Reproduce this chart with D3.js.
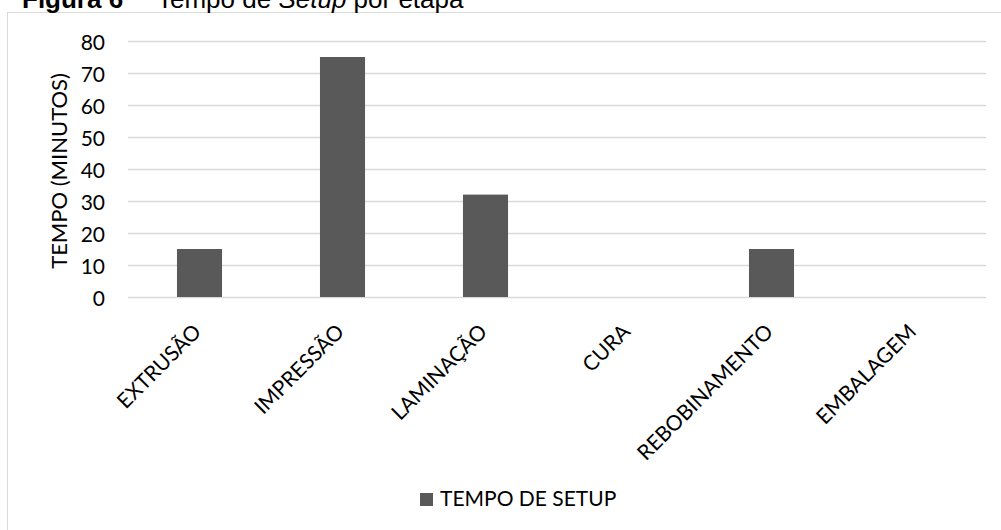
<!DOCTYPE html>
<html>
<head>
<meta charset="utf-8">
<script src="https://cdn.jsdelivr.net/npm/d3@7"></script>
<style>
  html, body { margin: 0; padding: 0; background: #fff; }
  svg { display: block; }
</style>
</head>
<body>
<svg id="chart" width="1001" height="530"></svg>
<script>
// Setup time per production stage (minutes)
const etapas = ["EXTRUSÃO", "IMPRESSÃO", "LAMINAÇÃO", "CURA", "REBOBINAMENTO", "EMBALAGEM"];
const tempoSetup = [15, 75, 32, 0, 15, 0];
const yTicks = [0, 10, 20, 30, 40, 50, 60, 70, 80];
const serieNome = "TEMPO DE SETUP";
const eixoY = "TEMPO (MINUTOS)";

const bodyFont = "Lato, 'Open Sans', sans-serif";
const barColor = "#595959";
const gridColor = "#d9d9d9";

const svg = d3.select("#chart");

// Chart frame
svg.append("rect")
  .attr("x", 7.5).attr("y", 12.5)
  .attr("width", 1010).attr("height", 540)
  .attr("fill", "#fff")
  .attr("stroke", gridColor).attr("stroke-width", 1);

// Caption above the frame
const cap = svg.append("text")
  .attr("x", 22).attr("y", 8)
  .attr("font-family", "'Liberation Sans', Arial, sans-serif")
  .attr("font-size", 26)
  .attr("fill", "#000");
cap.append("tspan").attr("font-weight", "bold").text("Figura 6");
cap.append("tspan").attr("x", 157).text("Tempo de ");
cap.append("tspan").attr("font-style", "italic").text("Setup");
cap.append("tspan").text(" por etapa");

const plot = { left: 128, right: 986, top: 41, bottom: 297 };

const x = d3.scaleBand()
  .domain(etapas)
  .range([plot.left, plot.right])
  .paddingInner(0.685)
  .paddingOuter(0.685 / 2);

const y = d3.scaleLinear()
  .domain([0, 80])
  .range([plot.bottom, plot.top]);

// Horizontal gridlines + value labels
const yAxis = d3.axisLeft(y)
  .tickValues(yTicks)
  .tickSize(-(plot.right - plot.left))
  .tickPadding(23);

const gy = svg.append("g")
  .attr("transform", `translate(${plot.left},0)`)
  .call(yAxis);
gy.select(".domain").remove();
gy.selectAll(".tick line")
  .attr("stroke", gridColor)
  .attr("stroke-width", 1.5);
gy.selectAll(".tick text")
  .attr("font-family", bodyFont)
  .attr("font-size", 21)
  .attr("fill", "#000")
  .attr("dy", "0.4em");

// Bars
svg.append("g").selectAll("rect")
  .data(etapas.map((e, i) => ({ etapa: e, valor: tempoSetup[i] })))
  .join("rect")
  .attr("x", d => x(d.etapa))
  .attr("width", x.bandwidth())
  .attr("y", d => y(d.valor))
  .attr("height", d => y(0) - y(d.valor))
  .attr("fill", barColor);

// Category labels, rotated
const xAxis = d3.axisBottom(x).tickSize(0).tickPadding(0);
const gx = svg.append("g")
  .attr("transform", `translate(0,${plot.bottom})`)
  .call(xAxis);
gx.select(".domain").remove();
gx.selectAll(".tick text")
  .attr("font-family", bodyFont)
  .attr("font-size", 21)
  .attr("fill", "#000")
  .attr("text-anchor", "end")
  .attr("dy", null)
  .attr("y", null)
  .attr("transform", "translate(3,36) rotate(-45)");

// Y axis title
svg.append("text")
  .attr("transform", `translate(67,171) rotate(-90)`)
  .attr("text-anchor", "middle")
  .attr("font-family", bodyFont)
  .attr("font-size", 22)
  .attr("fill", "#000")
  .text(eixoY);

// Legend
const lg = svg.append("g").attr("transform", "translate(420,493)");
lg.append("rect").attr("width", 13).attr("height", 13).attr("fill", barColor);
lg.append("text")
  .attr("x", 20).attr("y", 13)
  .attr("font-family", bodyFont)
  .attr("font-size", 21)
  .attr("fill", "#000")
  .text(serieNome);
</script>
</body>
</html>
